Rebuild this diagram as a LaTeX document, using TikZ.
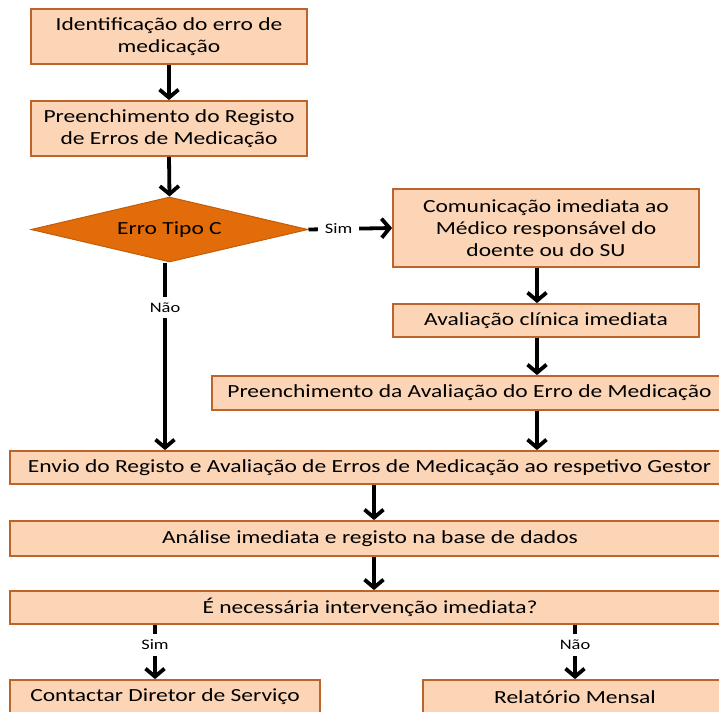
\documentclass[tikz,border=0pt]{standalone}
\usepackage{fontspec}
\setmainfont{Carlito}[FakeStretch=1.27]
\usetikzlibrary{arrows.meta,shapes.geometric}
\definecolor{boxfill}{HTML}{FBD5B5}
\definecolor{boxdraw}{HTML}{BC642A}
\definecolor{diafill}{HTML}{E36C0A}
\tikzset{
  pbox/.style={draw=boxdraw, fill=boxfill, line width=1.8pt, align=center, inner sep=0pt, font=\fontsize{18.5}{22}\selectfont},
  dbox/.style={diamond, draw=diafill!85!black, fill=diafill, line width=1pt, inner sep=0pt, aspect=4.26, minimum width=277pt, minimum height=65pt, font=\fontsize{18.5}{22}\selectfont},
  flow/.style={line width=3.8pt, -{Straight Barb[length=8pt,width=19pt]}},
  lbl/.style={fill=white, inner xsep=7pt, inner ysep=6pt, font=\fontsize{14.5}{16}\selectfont}
}
\begin{document}
\begin{tikzpicture}[x=1pt,y=-1pt]
\useasboundingbox (0,0) rectangle (719,711);
\clip (0,0) rectangle (719,711);
\fill[white] (0,0) rectangle (719,711);
\node[pbox, minimum width=276pt, minimum height=55pt] (b1) at (169,36.5) {Identificação do erro de\\medicação};
\node[pbox, minimum width=276pt, minimum height=55pt] (b2) at (169,128.5) {Preenchimento do Registo\\de Erros de Medicação};
\node[dbox] (d1) at (169.5,229.5) {Erro Tipo C};
\node[pbox, minimum width=306pt, minimum height=78pt] (b4) at (546,228) {Comunicação imediata ao\\Médico responsável do\\doente ou do SU};
\node[pbox, minimum width=306pt, minimum height=33pt] (b5) at (546,320.5) {Avaliação clínica imediata};
\node[pbox, minimum width=515pt, minimum height=34pt] (b6) at (469.5,393) {Preenchimento da Avaliação do Erro de Medicação};
\node[pbox, minimum width=719pt, minimum height=33pt] (b7) at (369.5,467.5) {Envio do Registo e Avaliação de Erros de Medicação ao respetivo Gestor};
\node[pbox, minimum width=720pt, minimum height=35pt] (b8) at (370,538.5) {Análise imediata e registo na base de dados};
\node[pbox, minimum width=720pt, minimum height=33pt] (b9) at (370,607.5) {É necessária intervenção imediata?};
\node[pbox, minimum width=310pt, minimum height=34pt] (b10) at (165,697) {Contactar Diretor de Serviço};
\node[pbox, minimum width=304pt, minimum height=34pt] (b11) at (575,697) {Relatório Mensal};

\draw[flow] (b1.south) -- (b2.north);
\draw[flow] (b2.south) -- (d1.north);
\draw[flow] (d1.east) -- node[lbl, pos=0.36] {Sim} (b4.west);
\draw[flow] (d1.south -| 165,0) -- node[lbl, pos=0.24] {Não} (b7.north -| 165,0);
\draw[flow] (b4.south -| 537,0) -- (b5.north -| 537,0);
\draw[flow] (b5.south -| 537,0) -- (b6.north -| 537,0);
\draw[flow] (b6.south -| 537,0) -- (b7.north -| 537,0);
\draw[flow] (b7.south -| 374,0) -- (b8.north -| 374,0);
\draw[flow] (b8.south -| 374,0) -- (b9.north -| 374,0);
\draw[flow] (b9.south -| 155,0) -- node[lbl, pos=0.37] {Sim} (b10.north -| 155,0);
\draw[flow] (b9.south -| 575,0) -- node[lbl, pos=0.37] {Não} (b11.north -| 575,0);
\end{tikzpicture}
\end{document}
